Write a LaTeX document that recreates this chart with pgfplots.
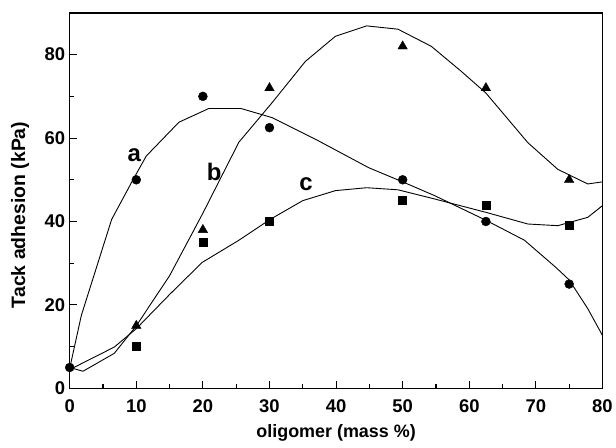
\documentclass[border=0pt]{standalone}
\usepackage{pgfplots}
\pgfplotsset{compat=1.18}
\usepackage{fontspec}
\setmainfont{Liberation Sans}

\begin{document}
\begin{tikzpicture}
  \begin{axis}[
      scale only axis,
      width=535pt, height=377pt,
      xmin=0, xmax=80, ymin=0, ymax=90,
      xtick={0,10,...,80}, ytick={0,20,...,80},
      minor xtick={5,15,...,75}, minor ytick={10,30,...,70},
      tick align=inside,
      xtick pos=bottom, ytick pos=left,
      major tick length=7pt, minor tick length=4pt,
      axis line style={line width=1.6pt},
      every tick/.style={black, line width=1.1pt},
      /pgf/number format/assume math mode=true,
      tick label style={font=\fontsize{18.5}{20}\selectfont\bfseries},
      xticklabel style={yshift=-8pt},
      yticklabel style={xshift=-1pt},
      xlabel={oligomer (mass \%)},
      ylabel={Tack adhesion (kPa)},
      xlabel style={font=\fontsize{18}{20}\selectfont\bfseries,
        at={(axis description cs:0.5,-0.119)}, anchor=center},
      ylabel style={font=\fontsize{19.5}{21}\selectfont\bfseries,
        at={(axis description cs:-0.093,0.462)}, anchor=center},
      clip=false,
    ]
    % fitted curves
    \addplot[black, line width=0.9pt] coordinates {
      (0,4.8) (1.75,17.5) (6.3,40.5) (9.5,50) (11.5,55.7) (16.4,63.8)
      (20.9,67.1) (25.7,67.1) (30.4,64.9) (37.4,59.3) (44.9,52.9)
      (50,49.5) (54.8,46.2) (62.5,40.3) (68.3,35.5) (73,29) (75,26)
      (77.8,19.1) (80,12.7)
    };
    \addplot[black, line width=0.9pt] coordinates {
      (0,5) (2,4.1) (6.7,8.4) (10,15) (15,27) (20,42) (25.4,59)
      (30.4,68.5) (35.4,78.4) (39.9,84.4) (44.6,86.9) (49.3,86.1)
      (54.3,82) (58.8,76) (62.5,70.8) (68.8,58.9) (73.3,52.5)
      (77.8,49) (80,49.5)
    };
    \addplot[black, line width=0.9pt] coordinates {
      (0,4.5) (6.7,9.9) (10,14.3) (15,22.5) (19.9,30.2) (25.4,35.5)
      (30.2,40.6) (35,45) (39.9,47.4) (44.6,48.1) (49.3,47.6)
      (54.8,45.4) (62.5,42.2) (68.8,39.4) (73.3,39) (77.8,41) (80,43.8)
    };
    % measured points
    \addplot[only marks, mark=*, mark size=4.5pt, black] coordinates {
      (0,5) (10,50) (20,70) (30,62.5) (50,50) (62.5,40) (75,25)
    };
    \addplot[only marks, mark=triangle*, mark size=5.5pt, black] coordinates {
      (10,15) (20,38) (30,72) (50,82) (62.5,72) (75,50)
    };
    \addplot[only marks, mark=square*, mark size=4pt, black] coordinates {
      (10,10) (20,35) (30,40) (50,45) (62.5,44) (75,39)
    };
    \node[font=\fontsize{24}{26}\selectfont\bfseries] at (axis cs:9.7,55.9) {a};
    \node[font=\fontsize{24}{26}\selectfont\bfseries] at (axis cs:21.7,51.8) {b};
    \node[font=\fontsize{24}{26}\selectfont\bfseries] at (axis cs:35.5,49) {c};
  \end{axis}
  \path ([shift={(-70pt,-59pt)}]current axis.south west)
    rectangle ([shift={(11pt,13pt)}]current axis.north east);
\end{tikzpicture}
\end{document}
